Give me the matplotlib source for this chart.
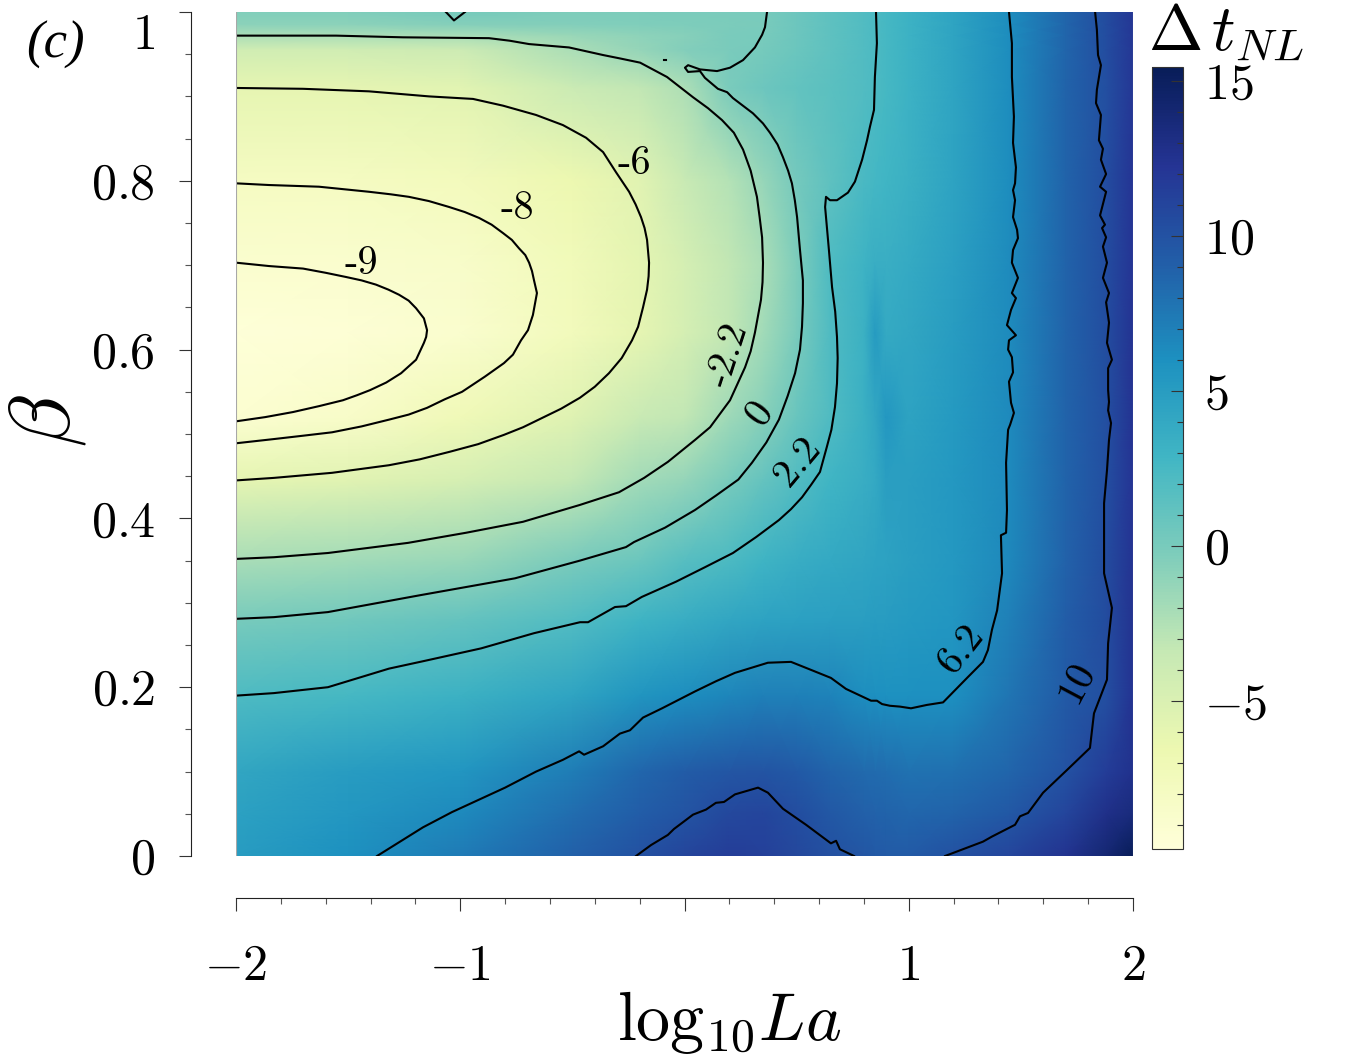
import matplotlib
matplotlib.use("Agg")
import matplotlib.pyplot as plt
import numpy as np
from matplotlib.ticker import FixedLocator, NullFormatter

plt.rcParams['font.family'] = ['cmr10', 'DejaVu Sans']
plt.rcParams['mathtext.fontset'] = 'cm'
plt.rcParams['axes.unicode_minus'] = False

la_nodes = [-2, -1.5, -1, -0.5, -0.2, 0, 0.2, 0.35, 0.5, 0.65, 0.8, 0.85, 0.9, 1.0, 1.2, 1.45, 1.7, 1.88, 2]
beta_nodes = [1.0, 0.985, 0.972, 0.955, 0.91, 0.80, 0.70, 0.62, 0.52, 0.445, 0.35, 0.28, 0.19, 0.10, 0.05, 0]
dt_values = [
    [-0.4, -0.4, 0.1, -0.3, -0.2, -0.1, -0.05, 0.0, 0.6, 1.3, 2.0, 2.3, 2.6, 3.2, 4.4, 6.2, 8.7, 10.5, 12.0],
    [-0.9, -0.9, -0.6, -0.5, -0.4, -0.3, -0.2, -0.05, 0.6, 1.3, 2.0, 2.3, 2.6, 3.2, 4.4, 6.2, 8.7, 10.5, 12.0],
    [-2.2, -2.2, -2.1, -1.5, -1.0, -0.7, -0.1, 0.0, 0.6, 1.3, 2.0, 2.3, 2.6, 3.2, 4.4, 6.2, 8.7, 10.4, 12.0],
    [-4.2, -4.2, -3.9, -2.2, -1.3, -0.5, -0.1, 0.1, 0.7, 1.3, 2.0, 2.3, 2.6, 3.2, 4.4, 6.2, 8.7, 10.4, 12.0],
    [-6.0, -6.0, -5.7, -3.8, -3.2, -2.3, -0.1, 0.6, 1.1, 1.5, 2.0, 2.3, 2.6, 3.2, 4.4, 6.2, 8.8, 10.3, 12.0],
    [-8.0, -8.0, -7.6, -6.6, -5.6, -3.6, -2.6, -1.4, 0.2, 1.3, 2.4, 2.7, 2.9, 3.4, 4.5, 6.2, 8.8, 10.4, 12.2],
    [-9.0, -8.85, -8.6, -7.3, -5.9, -4.6, -3.2, -2.2, -0.3, 2.2, 3.1, 3.6, 3.5, 3.9, 4.8, 6.3, 8.8, 10.4, 12.2],
    [-9.6, -9.4, -8.9, -7.5, -6.0, -4.6, -3.2, -1.9, -0.1, 2.1, 3.3, 5.1, 3.9, 4.2, 5.0, 6.3, 8.8, 10.4, 12.3],
    [-9.1, -8.5, -7.2, -5.4, -3.6, -3.2, -1.7, -0.7, 0.8, 2.1, 3.4, 4.2, 5.4, 4.5, 5.2, 6.4, 8.8, 10.3, 12.3],
    [-6.0, -5.6, -4.7, -3.3, -1.9, -1.3, 0.0, 1.0, 2.0, 2.9, 3.6, 4.0, 4.9, 4.9, 5.3, 6.4, 8.8, 10.3, 12.2],
    [-2.1, -1.9, -1.5, -0.1, 0.75, 1.7, 2.3, 3.0, 3.6, 4.0, 4.3, 4.5, 4.6, 4.9, 5.3, 6.5, 8.9, 10.5, 12.3],
    [0.0, 0.4, 1.0, 2.0, 3.0, 3.6, 4.2, 4.5, 4.7, 4.8, 4.9, 5.0, 5.0, 5.2, 5.5, 7.0, 9.2, 10.5, 12.4],
    [2.2, 2.6, 3.3, 4.4, 5.6, 6.1, 6.6, 7.0, 7.0, 6.8, 6.1, 6.0, 5.9, 5.9, 6.0, 7.7, 9.4, 10.3, 12.3],
    [4.2, 5.0, 5.5, 7.2, 8.6, 9.3, 9.7, 9.9, 9.5, 8.8, 8.4, 8.3, 8.2, 7.9, 8.0, 8.7, 10.0, 11.6, 12.6],
    [4.7, 5.4, 6.4, 8.2, 9.2, 9.9, 10.8, 11.0, 10.4, 9.6, 9.0, 8.9, 8.8, 8.6, 8.8, 9.6, 11.0, 12.8, 13.5],
    [5.0, 5.9, 7.3, 9.0, 10.1, 11.0, 11.6, 11.4, 10.8, 10.2, 9.7, 9.5, 9.4, 9.4, 10.1, 11.0, 12.4, 14.0, 15.4],
]
dt_min = -9.79
dt_max = 15.45

# contour lines, (log10 La, beta)
line_m9 = [(-2, .703), (-1.853, .699), (-1.701, .696), (-1.6, .691), (-1.509, .686), (-1.44, .682),
           (-1.376, .677), (-1.32, .671), (-1.273, .665), (-1.23, .658), (-1.197, .649), (-1.162, .637),
           (-1.148, .623), (-1.152, .615), (-1.162, .608), (-1.197, .588), (-1.264, .572), (-1.33, .561),
           (-1.402, .552), (-1.46, .546), (-1.523, .540), (-1.63, .533), (-1.746, .526), (-1.87, .520),
           (-2, .515)]
line_m8 = [(-2, .797), (-1.853, .795), (-1.630, .793), (-1.407, .787), (-1.31, .784), (-1.229, .781),
           (-1.14, .776), (-1.050, .769), (-.98, .763), (-.916, .756), (-.86, .748), (-.809, .738),
           (-.77, .730), (-.738, .720), (-.71, .712), (-.693, .703), (-.68, .693), (-.671, .682),
           (-.658, .667), (-.676, .641), (-.698, .623), (-.729, .611), (-.765, .594), (-.805, .584),
           (-.890, .568), (-.992, .550), (-1.07, .541), (-1.148, .531), (-1.23, .523), (-1.318, .517),
           (-1.44, .509), (-1.572, .502), (-1.7, .498), (-1.831, .494), (-2, .489)]
line_m6 = [(-2, .910), (-1.701, .909), (-1.407, .906), (-1.139, .900), (-.943, .897), (-.809, .889),
           (-.662, .878), (-.542, .866), (-.439, .851), (-.363, .834), (-.305, .810), (-.247, .787),
           (-.218, .772), (-.194, .757), (-.178, .744), (-.167, .730), (-.158, .703), (-.160, .687),
           (-.167, .671), (-.185, .650), (-.207, .627), (-.234, .611), (-.28, .590), (-.337, .572),
           (-.40, .556), (-.466, .543), (-.55, .530), (-.635, .519), (-.72, .508), (-.805, .499),
           (-.92, .488), (-1.046, .479), (-1.18, .470), (-1.318, .463), (-1.572, .454), (-1.831, .448),
           (-2, .445)]
line_m22 = [(-2, .972), (-1.554, .972), (-1.255, .970), (-.872, .969), (-.78, .966), (-.693, .962),
            (-.515, .958), (-.363, .949), (-.288, .945), (-.198, .940), (-.078, .923), (.038, .899),
            (.105, .886), (.167, .872), (.22, .857), (.261, .837), (.295, .812), (.323, .781), (.335, .757),
            (.346, .733), (.350, .703), (.348, .680), (.341, .659), (.314, .620), (.295, .598), (.270, .579),
            (.203, .540), (.114, .508), (.047, .493), (-.074, .467), (-.18, .448), (-.292, .431),
            (-.466, .416), (-.720, .396), (-.974, .383), (-1.233, .371), (-1.590, .359), (-1.831, .354),
            (-2, .352)]
line_0 = [(.368, 1.0), (.359, .982), (.346, .973), (.314, .958), (.261, .943), (.203, .934), (.145, .930),
          (.069, .932), (.016, .937), (.002, .934), (.016, .929), (.069, .930), (.091, .922), (.149, .909),
          (.190, .905), (.216, .898), (.305, .880), (.35, .868), (.381, .857), (.415, .843), (.439, .828),
          (.462, .812), (.479, .797), (.492, .777), (.502, .757), (.515, .718), (.528, .682), (.528, .655),
          (.524, .627), (.515, .600), (.493, .572), (.46, .545), (.421, .517), (.365, .49), (.301, .466),
          (.24, .446), (.14, .427), (.047, .410), (-.087, .389), (-.225, .372), (-.261, .366), (-.466, .350),
          (-.756, .329), (-1.179, .309), (-1.590, .289), (-1.831, .283), (-2, .281)]
line_0_arc = [(-1.064, 1.0), (-1.028, .990), (-.979, 1.0)]
line_0_dot = [(-.091, .943), (-.083, .943)]
line_22 = [(.854, 1.0), (.858, .963), (.849, .923), (.845, .884), (.827, .864), (.814, .848), (.792, .825),
           (.760, .799), (.729, .786), (.680, .777), (.649, .777), (.631, .781), (.627, .769), (.635, .745),
           (.644, .718), (.658, .674), (.672, .645), (.680, .615), (.683, .59), (.680, .56), (.671, .532),
           (.655, .505), (.635, .485), (.604, .455), (.565, .44), (.524, .425), (.475, .411), (.421, .398),
           (.32, .378), (.216, .359), (.09, .342), (-.038, .325), (-.190, .307), (-.261, .296), (-.310, .295),
           (-.430, .277), (-.466, .277), (-.671, .264), (-.907, .246), (-1.162, .231), (-1.318, .222),
           (-1.590, .200), (-1.831, .193), (-2, .190)]
line_62 = [(1.447, 1.0), (1.460, .963), (1.460, .923), (1.469, .876), (1.465, .845), (1.478, .816),
           (1.474, .797), (1.465, .789), (1.474, .777), (1.465, .757), (1.483, .742), (1.487, .732),
           (1.465, .718), (1.460, .703), (1.487, .685), (1.460, .667), (1.478, .661), (1.456, .647),
           (1.438, .629), (1.478, .617), (1.447, .611), (1.443, .600), (1.460, .591), (1.465, .573),
           (1.447, .562), (1.456, .537), (1.469, .525), (1.452, .511), (1.443, .505), (1.434, .466),
           (1.438, .410), (1.434, .383), (1.411, .380), (1.416, .335), (1.394, .291), (1.371, .268),
           (1.353, .244), (1.331, .230), (1.260, .211), (1.153, .182), (1.081, .179), (1.010, .175),
           (.961, .177), (.916, .178), (.881, .180), (.858, .184), (.832, .184), (.720, .198), (.653, .211),
           (.569, .220), (.475, .230), (.372, .229), (.225, .217), (.140, .207), (.047, .195), (-.100, .175),
           (-.185, .164), (-.243, .149), (-.288, .145), (-.363, .130), (-.448, .120), (-.470, .124),
           (-.542, .114), (-.662, .100), (-.800, .081), (-1.037, .052), (-1.166, .034), (-1.371, 0)]
line_10 = [(1.831, 1.0), (1.839, .979), (1.844, .949), (1.857, .937), (1.839, .908), (1.835, .892),
           (1.857, .878), (1.848, .848), (1.866, .838), (1.857, .825), (1.880, .808), (1.853, .793),
           (1.880, .787), (1.853, .759), (1.875, .748), (1.862, .744), (1.880, .733), (1.866, .722),
           (1.884, .703), (1.866, .685), (1.893, .667), (1.880, .656), (1.893, .632), (1.884, .608),
           (1.906, .588), (1.889, .578), (1.889, .552), (1.893, .538), (1.889, .528), (1.902, .513),
           (1.893, .493), (1.884, .457), (1.871, .418), (1.871, .335), (1.906, .294), (1.889, .252),
           (1.884, .209), (1.826, .169), (1.808, .128), (1.706, .102), (1.599, .075), (1.532, .051),
           (1.496, .047), (1.474, .037), (1.371, .023), (1.331, .017), (1.162, 0)]
line_10_peak = [(-.216, 0), (-.149, .013), (-.074, .025), (-.047, .032), (.038, .049), (.096, .055),
                (.140, .063), (.176, .064), (.225, .073), (.328, .081), (.372, .075), (.439, .056),
                (.542, .037), (.653, .015), (.676, .018), (.693, .008), (.756, 0)]
contour_lines = [line_m9, line_m8, line_m6, line_m22, line_0, line_0_arc, line_0_dot,
                 line_22, line_62, line_10, line_10_peak]

label_texts = ['-9', '-8', '-6', '-2.2', '0', '2.2', '6.2', '10']
label_la = [-1.443, -.747, -.225, .194, .337, .506, 1.233, 1.750]
label_beta = [.701, .767, .820, .594, .524, .467, .245, .205]
label_angle = [0, 0, 0, 72, 54, 50, 52, 62]

xticks_major = [-2, -1, 0, 1, 2]
xtick_labels = ['$-2$', '$-1$', '', '$1$', '$2$']
yticks_major = [0, 0.2, 0.4, 0.6, 0.8, 1]
ytick_labels = ['$0$', '$0.2$', '$0.4$', '$0.6$', '$0.8$', '']
cbar_ticks = [-5, 0, 5, 10, 15]
cbar_labels = ['$-5$', '$0$', '$5$', '$10$', '$15$']

W, H = 1359, 1063
fig = plt.figure(figsize=(W / 100, H / 100), dpi=100)
ax = fig.add_axes([236 / W, 1 - 856 / H, 897 / W, 844 / H])

mesh = ax.pcolormesh(la_nodes, beta_nodes, np.array(dt_values), cmap='YlGnBu',
                     vmin=dt_min, vmax=dt_max, shading='gouraud', rasterized=True)
for pts in contour_lines:
    pts = np.array(pts)
    ax.plot(pts[:, 0], pts[:, 1], color='black', lw=1.5, solid_joinstyle='round')
for s, x, y, a in zip(label_texts, label_la, label_beta, label_angle):
    ax.text(x, y, s, fontsize=29, rotation=a, ha='center', va='center', rotation_mode='anchor')

ax.axvline(-2, color='#a8a8a8', lw=0.8)
ax.axvline(2, color='#a8a8a8', lw=0.8)
ax.set_xlim(-2, 2)
ax.set_ylim(0, 1)

for side in ['top', 'right']:
    ax.spines[side].set_visible(False)
ax.spines['left'].set_position(('outward', 32.4))
ax.spines['bottom'].set_position(('outward', 30.2))
for side in ['left', 'bottom']:
    ax.spines[side].set_linewidth(0.8)
    ax.spines[side].set_color('#222222')

ax.xaxis.set_major_locator(FixedLocator(xticks_major))
ax.xaxis.set_minor_locator(FixedLocator(np.arange(-2, 2.01, 0.2)))
ax.yaxis.set_major_locator(FixedLocator(yticks_major))
ax.yaxis.set_minor_locator(FixedLocator(np.arange(0, 1.01, 0.05)))
ax.set_xticklabels(xtick_labels)
ax.set_yticklabels(ytick_labels)
ax.xaxis.set_minor_formatter(NullFormatter())
ax.yaxis.set_minor_formatter(NullFormatter())
ax.tick_params(axis='both', which='major', length=9, width=0.8, color='#333333', labelsize=36)
ax.tick_params(axis='both', which='minor', length=4.5, width=0.8, color='#555555')
ax.tick_params(axis='x', which='major', pad=24)
ax.tick_params(axis='y', which='major', pad=17)

# the top label sits lower than its tick
ax.text(-2.361, 0.972, '$1$', fontsize=36, ha='right', va='center', clip_on=False)

fig.text(729 / W, 1 - 1022 / H, r'$\log_{10}\!La$', fontsize=49, ha='center', va='center')
fig.text(47 / W, 1 - 421 / H, r'$\beta$', fontsize=62, rotation=90, ha='center', va='center')
fig.text(55 / W, 1 - 45 / H, '(c)', fontsize=38, family='Liberation Serif', style='italic',
         ha='center', va='center')

cax = fig.add_axes([1152 / W, 1 - 849 / H, 31 / W, 782 / H])
cbar = fig.colorbar(mesh, cax=cax, orientation='vertical')
cbar.set_ticks(cbar_ticks)
cbar.set_ticklabels(cbar_labels)
cbar.ax.yaxis.set_minor_locator(FixedLocator(np.arange(-9, 15.5, 1)))
cbar.ax.yaxis.set_minor_formatter(NullFormatter())
cbar.ax.tick_params(axis='y', which='major', direction='in', length=9, width=0.8, color='#333333',
                    labelsize=36, pad=15)
cbar.ax.tick_params(axis='y', which='minor', direction='in', length=4.5, width=0.8, color='#333333')
cbar.outline.set_linewidth(0.8)
cbar.outline.set_edgecolor('#333333')

fig.text(1226 / W, 1 - 33 / H, r'$\Delta\,t_{NL}$', fontsize=47, ha='center', va='center')

fig.savefig('out.png', dpi=100)
